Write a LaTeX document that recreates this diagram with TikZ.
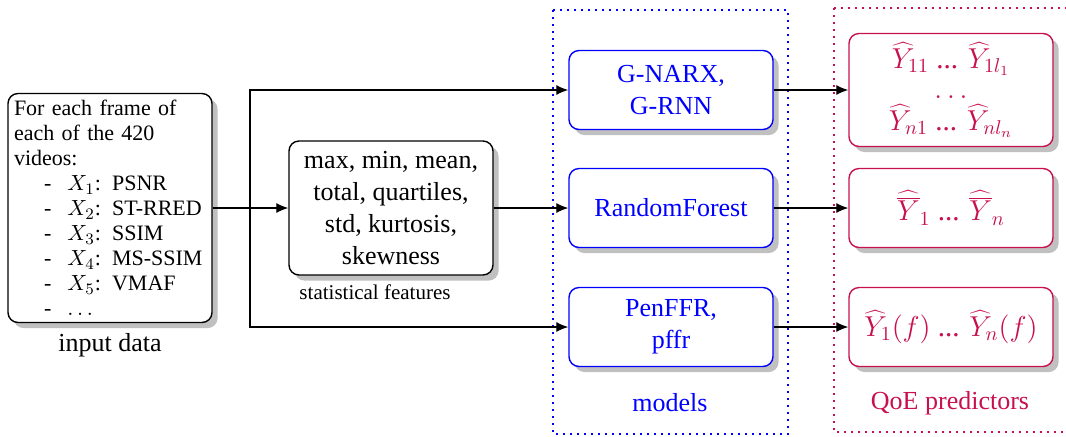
\documentclass[tikz,border=0pt]{standalone}
\usepackage{fontspec}
\setmainfont{Liberation Serif}
\usetikzlibrary{shadows,arrows.meta}
\definecolor{qoe}{RGB}{200,16,80}
\definecolor{shade}{RGB}{192,192,192}
\begin{document}
\begin{tikzpicture}[x=0.5pt,y=-0.5pt,
  box/.style={draw, rounded corners=5pt, line width=0.7pt, fill=white,
    drop shadow={shadow xshift=2.8pt, shadow yshift=-2.8pt, fill=shade, opacity=1},
    minimum width=102pt, inner sep=2pt, align=center},
  big/.style={font=\fontsize{13}{16}\selectfont},
  mbig/.style={font=\fontsize{14.5}{17}\selectfont},
  arr/.style={-{Latex[length=6pt,width=5pt]}, line width=0.6pt},
  frame/.style={line width=1.1pt, dash pattern=on 1.1pt off 2.4pt}
]
\useasboundingbox (0,0) rectangle (1066,436);
% group frames
\draw[frame, blue] (553,10) rectangle (788,434);
\draw[frame, qoe] (834,8) rectangle (1090,432);
% input box
\node[box, minimum height=114.5pt, text width=96pt, align=left, inner sep=3pt,
  font=\fontsize{11}{12.5}\selectfont] (input) at (110,208)
  {For each frame of\\ each of the 420\\ videos:\\
   \hspace*{15pt}-\hspace{8pt}$X_1$: PSNR\\
   \hspace*{15pt}-\hspace{8pt}$X_2$: ST-RRED\\
   \hspace*{15pt}-\hspace{8pt}$X_3$: SSIM\\
   \hspace*{15pt}-\hspace{8pt}$X_4$: MS-SSIM\\
   \hspace*{15pt}-\hspace{8pt}$X_5$: VMAF\\
   \hspace*{15pt}-\hspace{8pt}$\dots$};
\node[big] (inlbl) at (110,345) {input data};
% statistics box
\node[box, big, minimum height=67pt] (stats) at (391,208)
  {max, min, mean,\\ total, quartiles,\\ std, kurtosis,\\ skewness};
\node[font=\fontsize{10.5}{12}\selectfont] (statlbl) at (375,292) {statistical features};
% models
\node[box, big, draw=blue, text=blue, minimum height=39.5pt] (m1) at (671,90) {G-NARX,\\ G-RNN};
\node[box, big, draw=blue, text=blue, minimum height=39.5pt] (m2) at (671,208) {RandomForest};
\node[box, big, draw=blue, text=blue, minimum height=39.5pt] (m3) at (671,327) {PenFFR,\\ pffr};
\node[big, text=blue] (mlbl) at (670,403) {models};
% predictors
\node[box, mbig, draw=qoe, text=qoe, minimum height=56.5pt] (r1) at (951,90)
  {$\widehat{Y}_{11}$ ... $\widehat{Y}_{1l_1}$\\[-2pt] $\dots$\\[-1pt] $\widehat{Y}_{n1}$ ... $\widehat{Y}_{nl_n}$};
\node[box, mbig, draw=qoe, text=qoe, minimum height=39.5pt] (r2) at (951,208)
  {$\widehat{\overline{Y}}_1$ ... $\widehat{\overline{Y}}_n$};
\node[box, mbig, draw=qoe, text=qoe, minimum height=39.5pt] (r3) at (951,327)
  {$\widehat{Y}_1(f)$ ... $\widehat{Y}_n(f)$};
\node[big, text=qoe] (qlbl) at (950,403) {QoE predictors};
% connectors
\coordinate (j) at (250,208);
\draw[arr] (input.east) -- (stats.west);
\draw[arr] (j) |- (m1.west);
\draw[arr] (j) |- (m3.west);
\draw[arr] (stats.east) -- (m2.west);
\draw[arr] (m1.east) -- (r1.west);
\draw[arr] (m2.east) -- (r2.west);
\draw[arr] (m3.east) -- (r3.west);
\end{tikzpicture}
\end{document}
